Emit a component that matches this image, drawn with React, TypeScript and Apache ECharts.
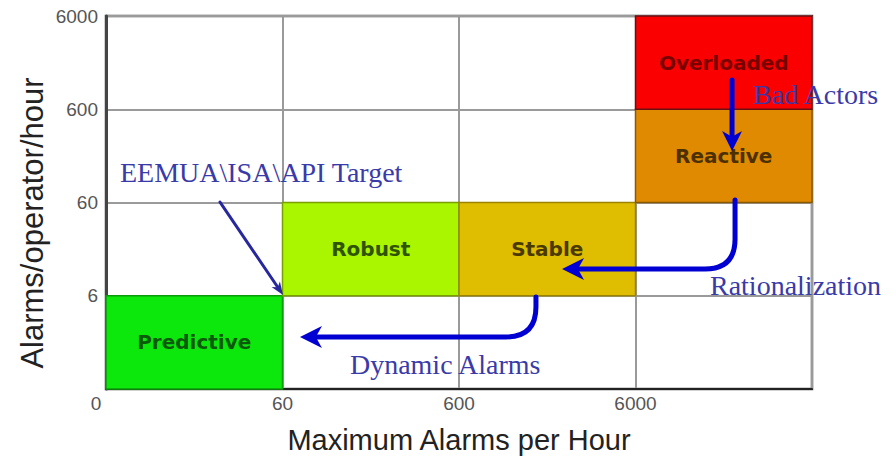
import React, { useEffect, useRef } from 'react';
import * as echarts from 'echarts';

// Tick labels (axis units 0..4, one unit per decade band)
const xTickLabels = ['0', '60', '600', '6000', ''];
const yTickLabels = ['', '6', '60', '600', '6000'];

// Performance zones (column / row in band units)
const zoneNames = ['Predictive', 'Robust', 'Stable', 'Reactive', 'Overloaded'];
const zoneCols = [0, 1, 2, 3, 3];
const zoneRows = [0, 1, 1, 2, 3];
const zoneFill = ['#0ce80c', '#aaf500', '#dfbd00', '#df8a00', '#fa0000'];
const zoneStroke = ['#0a9a0a', '#7aa000', '#9a8400', '#8a5a00', '#6a1010'];
const zoneTextColor = ['#0b5a0b', '#2f5400', '#4a3a00', '#4d3000', '#7a0000'];

// Arrows, in axis units: start, optional corner, tip
const arrowStart = [[0.646, 2.005], [3.547, 3.314], [3.564, 2.027], [2.436, 0.987]];
const arrowCorner: (number[] | null)[] = [null, null, [3.564, 1.287], [2.436, 0.558]];
const arrowTip = [[1.003, 1.008], [3.547, 2.552], [2.584, 1.287], [1.099, 0.558]];
const arrowColor = ['#28289e', '#0000d2', '#0000d2', '#0000d2'];
const arrowWidth = [3, 5, 5, 5];
const arrowHeadLen = [13, 20, 22, 22];
const arrowHeadHalf = [5, 10, 11, 11];

// Annotation labels, in axis units (left edge, vertical middle)
const noteTexts = ['EEMUA\\ISA\\API Target', 'Bad Actors', 'Rationalization', 'Dynamic Alarms'];
const noteX = [0.079, 3.666, 3.422, 1.382];
const noteY = [2.327, 3.153, 1.115, 0.268];

export default function App() {
  const ref = useRef<HTMLDivElement>(null);

  useEffect(() => {
    if (!ref.current) return;
    const chart = echarts.init(ref.current, undefined, { renderer: 'svg' });

    const option: any = {
      animation: false,
      grid: {
        left: 106,
        right: 84,
        top: 16,
        bottom: 71,
        show: true,
        borderColor: '#4a4a4a',
        borderWidth: 2.5,
        backgroundColor: 'transparent',
      },
      xAxis: {
        type: 'value',
        min: 0,
        max: 4,
        interval: 1,
        name: 'Maximum Alarms per Hour',
        nameLocation: 'middle',
        nameGap: 36,
        nameTextStyle: { fontFamily: 'Liberation Sans', fontSize: 29, color: '#222' },
        axisLine: { show: true, lineStyle: { color: '#222', width: 2 } },
        axisTick: { show: false },
        splitLine: { show: true, lineStyle: { color: '#9a9a9a', width: 2 } },
        axisLabel: {
          margin: 5,
          fontFamily: 'Liberation Sans',
          fontSize: 19,
          color: '#555',
          formatter: (v: number) => (v === 0 ? '{o|0}' : xTickLabels[v] ?? ''),
          rich: { o: { padding: [0, 20, 0, 0], fontFamily: 'Liberation Sans', fontSize: 19, color: '#555' } },
        },
      },
      yAxis: {
        type: 'value',
        min: 0,
        max: 4,
        interval: 1,
        axisLine: { show: true, lineStyle: { color: '#444', width: 3 } },
        axisTick: { show: false },
        splitLine: { show: true, lineStyle: { color: '#9a9a9a', width: 2 } },
        axisLabel: {
          margin: 8,
          fontFamily: 'Liberation Sans',
          fontSize: 19,
          color: '#555',
          formatter: (v: number) => yTickLabels[v] ?? '',
        },
      },
      graphic: [
        {
          type: 'text',
          x: 32,
          y: 223,
          rotation: Math.PI / 2,
          style: {
            text: 'Alarms/operator/hour',
            font: '31px "Liberation Sans"',
            fill: '#222',
            align: 'center',
            verticalAlign: 'middle',
          },
        },
      ],
      series: [
        {
          type: 'custom',
          z: 2,
          clip: false,
          data: zoneNames.map((_, i) => [zoneCols[i], zoneRows[i], i]),
          renderItem: (params: any, api: any) => {
            const i = api.value(2);
            const c = api.value(0);
            const r = api.value(1);
            const p0 = api.coord([c, r]);
            const p1 = api.coord([c + 1, r + 1]);
            return {
              type: 'group',
              children: [
                {
                  type: 'rect',
                  shape: { x: p0[0], y: p1[1], width: p1[0] - p0[0], height: p0[1] - p1[1] },
                  style: { fill: zoneFill[i], stroke: zoneStroke[i], lineWidth: 1.5 },
                },
                {
                  type: 'text',
                  x: (p0[0] + p1[0]) / 2,
                  y: (p0[1] + p1[1]) / 2,
                  style: {
                    text: zoneNames[i],
                    font: 'bold 20px "DejaVu Sans"',
                    fill: zoneTextColor[i],
                    align: 'center',
                    verticalAlign: 'middle',
                  },
                },
              ],
            };
          },
        },
        {
          type: 'custom',
          z: 3,
          clip: false,
          data: arrowStart.map((s, i) => [s[0], s[1], i]),
          renderItem: (params: any, api: any) => {
            const i = api.value(2);
            const s = api.coord(arrowStart[i]);
            const t = api.coord(arrowTip[i]);
            const cornerV = arrowCorner[i];
            const prev = cornerV ? api.coord(cornerV) : s;
            let dx = t[0] - prev[0];
            let dy = t[1] - prev[1];
            const len = Math.hypot(dx, dy) || 1;
            dx /= len;
            dy /= len;
            const nx = -dy;
            const ny = dx;
            const L = arrowHeadLen[i];
            const W = arrowHeadHalf[i];
            const base = [t[0] - dx * L, t[1] - dy * L];
            const notch = [t[0] - dx * L * 0.72, t[1] - dy * L * 0.72];
            let d = `M${s[0]},${s[1]}`;
            if (cornerV) {
              const cp = api.coord(cornerV);
              const rad = 30;
              let ax = cp[0] - s[0];
              let ay = cp[1] - s[1];
              const al = Math.hypot(ax, ay) || 1;
              ax /= al;
              ay /= al;
              const r1 = Math.min(rad, al);
              const a1 = [cp[0] - ax * r1, cp[1] - ay * r1];
              const a2 = [cp[0] + dx * rad, cp[1] + dy * rad];
              d += ` L${a1[0]},${a1[1]} Q${cp[0]},${cp[1]} ${a2[0]},${a2[1]}`;
            }
            d += ` L${notch[0]},${notch[1]}`;
            return {
              type: 'group',
              children: [
                {
                  type: 'path',
                  shape: { pathData: d },
                  style: { stroke: arrowColor[i], lineWidth: arrowWidth[i], fill: 'none', lineCap: 'round', lineJoin: 'round' },
                },
                {
                  type: 'polygon',
                  shape: {
                    points: [
                      t,
                      [base[0] + nx * W, base[1] + ny * W],
                      notch,
                      [base[0] - nx * W, base[1] - ny * W],
                    ],
                  },
                  style: { fill: arrowColor[i], stroke: 'none' },
                },
              ],
            };
          },
        },
        {
          type: 'custom',
          z: 4,
          clip: false,
          data: noteTexts.map((_, i) => [noteX[i], noteY[i], i]),
          renderItem: (params: any, api: any) => {
            const i = api.value(2);
            const p = api.coord([api.value(0), api.value(1)]);
            return {
              type: 'text',
              x: p[0],
              y: p[1],
              style: {
                text: noteTexts[i],
                font: '28px "Liberation Serif"',
                fill: '#3a3aa8',
                align: 'left',
                verticalAlign: 'middle',
              },
            };
          },
        },
      ],
    };

    chart.setOption(option);
    return () => chart.dispose();
  }, []);

  return (
    <div
      ref={ref}
      style={{ position: 'fixed', left: 0, top: 0, width: 896, height: 460, background: '#fff' }}
    />
  );
}
